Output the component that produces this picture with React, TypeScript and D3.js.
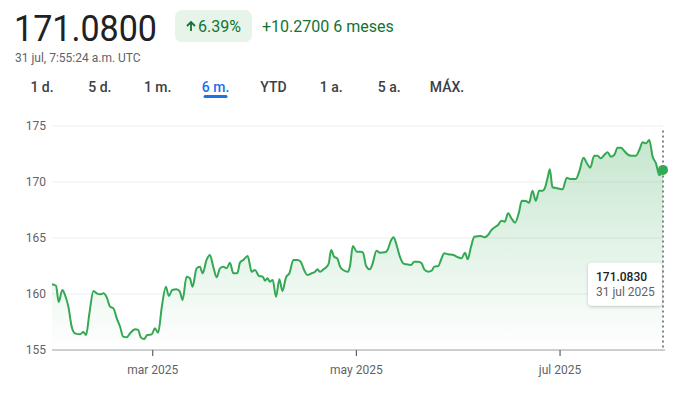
import * as d3 from 'd3';
import React, { useEffect, useRef } from 'react';

// time of each reading, in days after the window start
const dayOffsets = [
  0, 1.2, 2.0, 3.1, 3.9, 4.9, 5.9, 6.9, 8.4, 9.4, 10.2, 11.2, 12.4, 13.4, 14.4, 15.4, 16.4,
  17.4, 18.4, 19.4, 20.4, 21.3, 22.4, 23.4, 24.9, 25.8, 26.6, 27.6, 28.5, 29.9, 30.8, 31.8,
  32.9, 34.1, 35.0, 36.0, 37.3, 38.3, 39.1, 40.3, 41.3, 42.1, 43.3, 44.3, 45.1, 46.3, 47.3,
  48.3, 49.3, 50.3, 51.3, 52.3, 53.3, 54.3, 55.5, 56.3, 57.3, 58.6, 59.8, 60.8, 62.0, 63.1,
  63.8, 64.5, 65.3, 66.1, 67.1, 68.1, 69.0, 70.1, 71.1, 72.3, 73.5, 74.5, 75.5, 76.5, 77.8,
  78.8, 79.5, 80.3, 81.3, 82.3, 82.9, 83.6, 84.5, 85.4, 86.3, 87.2, 88.7, 89.3, 90.1, 91.3,
  92.3, 93.1, 94.1, 95.2, 95.9, 97.2, 98.2, 99.7, 100.5, 101.5, 102.3, 103.2, 104.2, 105.2,
  106.2, 107.5, 108.5, 109.7, 110.7, 111.5, 112.7, 113.7, 114.5, 115.7, 116.5, 117.5, 118.7,
  120.2, 121.2, 122.7, 123.7, 124.5, 125.5, 126.5, 128.4, 129.6, 130.6, 131.6, 132.6, 133.6,
  134.6, 135.6, 136.6, 137.6, 138.7, 139.9, 140.7, 141.9, 142.9, 143.9, 144.9, 145.9, 146.9,
  147.6, 148.4, 149.1, 149.9, 151.4, 152.9, 154.2, 155.2, 156.9, 157.9, 159.2, 160.2, 161.2,
  162.4, 163.4, 164.4, 165.4, 166.4, 167.4, 168.4, 169.4, 170.4, 171.4, 172.4, 173.4, 174.9,
  175.9, 176.9, 177.9, 178.9, 179.9, 180.9, 181.9, 183.0,
];

const prices = [
  160.87, 160.74, 159.29, 160.36, 159.91, 158.87, 157.08, 156.49, 156.40, 156.61, 156.34, 158.27,
  160.27, 160.06, 159.97, 160.06, 159.70, 158.87, 158.72, 157.83, 157.08, 156.19, 156.13, 156.49,
  156.85, 156.79, 156.13, 155.98, 156.34, 156.40, 156.94, 156.55, 158.87, 160.65, 159.82, 160.36,
  160.42, 160.21, 159.46, 161.55, 161.40, 160.65, 162.29, 162.44, 161.85, 163.04, 163.48, 162.44,
  161.49, 162.29, 162.44, 162.29, 162.80, 161.85, 161.85, 162.80, 163.04, 163.39, 161.99, 162.14,
  161.61, 161.55, 161.19, 161.40, 161.10, 161.25, 159.76, 161.31, 160.27, 161.49, 161.85, 163.04,
  163.04, 162.88, 162.14, 161.70, 161.85, 161.99, 162.20, 161.99, 162.20, 162.44, 162.74, 163.93,
  163.33, 163.19, 162.44, 162.14, 161.99, 162.59, 164.29, 163.78, 163.78, 163.72, 162.50, 162.20,
  162.59, 163.87, 163.69, 163.72, 163.93, 164.76, 165.06, 164.38, 163.33, 162.74, 162.65, 162.59,
  162.88, 162.88, 162.74, 162.20, 161.99, 162.08, 162.44, 162.50, 163.04, 163.63, 163.54, 163.48,
  163.33, 163.19, 163.69, 163.10, 164.22, 165.12, 165.18, 165.06, 165.27, 165.71, 165.96, 166.16,
  166.55, 166.46, 167.20, 166.76, 166.37, 167.35, 168.33, 168.30, 168.15, 169.22, 168.33, 169.22,
  169.22, 169.44, 170.33, 171.13, 169.53, 169.44, 169.35, 170.39, 170.27, 170.27, 170.92, 172.17,
  171.67, 171.28, 172.35, 172.35, 172.11, 172.41, 172.65, 172.26, 172.41, 173.06, 173.06, 172.77,
  172.47, 172.35, 172.35, 172.86, 173.54, 173.45, 173.75, 172.26, 171.67, 170.60, 171.08,
];

const yTicks = [155, 160, 165, 170, 175];
const monthTicks = ['2025-03-01', '2025-05-01', '2025-07-01'];
const monthLabels = ['mar 2025', 'may 2025', 'jul 2025'];
const ranges = ['1 d.', '5 d.', '1 m.', '6 m.', 'YTD', '1 a.', '5 a.', 'MÁX.'];
const activeRange = '6 m.';

const windowStart = new Date('2025-01-29T20:00:00Z');
const windowDays = 183;
const lastPrice = '171.0800';
const lastTime = '31 jul, 7:55:24 a.m. UTC';
const changePct = '6.39%';
const changeAbs = '+10.2700 6 meses';
const tipValue = '171.0830';
const tipDate = '31 jul 2025';

const DAY = 86400000;
const FONT = 'Roboto, Arial, sans-serif';

const App = () => {
  const svgRef = useRef<SVGSVGElement>(null);

  useEffect(() => {
    const width = 676;
    const height = 393;
    const margin = { top: 126, right: 13, bottom: 43, left: 52 };

    const data = prices.map((p, i) => ({
      date: new Date(windowStart.getTime() + dayOffsets[i] * DAY),
      price: p,
    }));

    const x = d3
      .scaleUtc()
      .domain([windowStart, new Date(windowStart.getTime() + windowDays * DAY)])
      .range([margin.left, width - margin.right]);

    const y = d3
      .scaleLinear()
      .domain([155, 175])
      .range([height - margin.bottom, margin.top]);

    const svg = d3.select(svgRef.current);
    svg.selectAll('*').remove();
    svg.attr('width', width).attr('height', height);

    // header
    svg.append('text')
      .attr('x', 14).attr('y', 41)
      .attr('font-size', 36).attr('fill', '#202124')
      .attr('textLength', 143).attr('lengthAdjust', 'spacingAndGlyphs')
      .text(lastPrice);

    svg.append('rect')
      .attr('x', 175).attr('y', 10).attr('width', 77).attr('height', 32)
      .attr('rx', 7).attr('fill', '#e6f4ea');
    svg.append('path')
      .attr('d', 'M191,31V22.5M187,26L191,22L195,26')
      .attr('fill', 'none').attr('stroke', '#137333').attr('stroke-width', 1.8);
    svg.append('text')
      .attr('x', 198).attr('y', 32).attr('font-size', 16).attr('fill', '#137333')
      .text(changePct);
    svg.append('text')
      .attr('x', 262).attr('y', 32).attr('font-size', 16).attr('fill', '#137333')
      .text(changeAbs);

    svg.append('text')
      .attr('x', 15).attr('y', 62).attr('font-size', 12).attr('fill', '#5f6368')
      .text(lastTime);

    // range tabs
    const tabX = d3.scalePoint().domain(ranges).range([42, 447]);
    svg.append('g')
      .selectAll('text')
      .data(ranges)
      .enter()
      .append('text')
      .attr('x', d => tabX(d))
      .attr('y', 92)
      .attr('text-anchor', 'middle')
      .attr('font-size', 14)
      .attr('font-weight', 500)
      .attr('fill', d => (d === activeRange ? '#1a73e8' : '#3c4043'))
      .text(d => d);
    svg.append('rect')
      .attr('x', tabX(activeRange) - 12).attr('y', 95)
      .attr('width', 24).attr('height', 3).attr('rx', 1.5)
      .attr('fill', '#1a73e8');

    // grid + y labels
    const grid = svg.append('g');
    grid.selectAll('line')
      .data(yTicks.slice(1))
      .enter()
      .append('line')
      .attr('x1', margin.left).attr('x2', width - margin.right)
      .attr('y1', d => y(d)).attr('y2', d => y(d))
      .attr('stroke', '#eceff1').attr('stroke-width', 1);
    grid.selectAll('text')
      .data(yTicks)
      .enter()
      .append('text')
      .attr('x', 46).attr('y', d => y(d) + 4)
      .attr('text-anchor', 'end')
      .attr('font-size', 12).attr('fill', '#5f6368')
      .text(d => d);

    // area gradient
    const defs = svg.append('defs');
    const grad = defs.append('linearGradient')
      .attr('id', 'fillGrad')
      .attr('gradientUnits', 'userSpaceOnUse')
      .attr('x1', 0).attr('x2', 0)
      .attr('y1', y(175)).attr('y2', y(155));
    grad.append('stop').attr('offset', 0).attr('stop-color', '#34a853').attr('stop-opacity', 0.3);
    grad.append('stop').attr('offset', 1).attr('stop-color', '#34a853').attr('stop-opacity', 0);

    const shadow = defs.append('filter').attr('id', 'tipShadow')
      .attr('x', '-20%').attr('y', '-20%').attr('width', '140%').attr('height', '150%');
    shadow.append('feDropShadow')
      .attr('dx', 0).attr('dy', 1).attr('stdDeviation', 1.5)
      .attr('flood-color', '#3c4043').attr('flood-opacity', 0.3);

    svg.append('path')
      .datum(data)
      .attr('fill', 'url(#fillGrad)')
      .attr('d', d3.area<{ date: Date; price: number }>()
        .x(d => x(d.date))
        .y0(y(155))
        .y1(d => y(d.price))
        .curve(d3.curveMonotoneX));

    // bottom axis
    const axis = svg.append('g');
    axis.append('line')
      .attr('x1', margin.left).attr('x2', width - margin.right + 2)
      .attr('y1', y(155)).attr('y2', y(155))
      .attr('stroke', '#9aa0a6').attr('stroke-width', 1);
    const tickDates = monthTicks.map(s => new Date(s + 'T00:00:00Z'));
    axis.selectAll('line.tick')
      .data(tickDates)
      .enter()
      .append('line')
      .attr('class', 'tick')
      .attr('x1', d => x(d)).attr('x2', d => x(d))
      .attr('y1', y(155)).attr('y2', y(155) + 6)
      .attr('stroke', '#5f6368').attr('stroke-width', 1.2);
    axis.selectAll('text')
      .data(tickDates)
      .enter()
      .append('text')
      .attr('x', d => x(d))
      .attr('y', y(155) + 24)
      .attr('text-anchor', 'middle')
      .attr('font-size', 12).attr('fill', '#5f6368')
      .text((d, i) => monthLabels[i]);

    // price line
    svg.append('path')
      .datum(data)
      .attr('fill', 'none')
      .attr('stroke', '#34a853')
      .attr('stroke-width', 2)
      .attr('stroke-linejoin', 'round')
      .attr('d', d3.line<{ date: Date; price: number }>()
        .x(d => x(d.date))
        .y(d => y(d.price))
        .curve(d3.curveMonotoneX));

    // hover marker
    const last = data[data.length - 1];
    const lx = x(last.date);
    svg.append('line')
      .attr('x1', lx).attr('x2', lx)
      .attr('y1', y(174.6)).attr('y2', y(155))
      .attr('stroke', '#80868b').attr('stroke-width', 2)
      .attr('stroke-dasharray', '2,3');
    svg.append('circle')
      .attr('cx', lx).attr('cy', y(last.price))
      .attr('r', 5).attr('fill', '#34a853');

    const tip = svg.append('g');
    tip.append('rect')
      .attr('x', lx - 75).attr('y', y(162.8)).attr('width', 74).attr('height', 43)
      .attr('rx', 4).attr('fill', '#fff').attr('filter', 'url(#tipShadow)');
    tip.append('text')
      .attr('x', lx - 67).attr('y', y(162.8) + 18)
      .attr('font-size', 12).attr('font-weight', 500).attr('fill', '#202124')
      .text(tipValue);
    tip.append('text')
      .attr('x', lx - 67).attr('y', y(162.8) + 33)
      .attr('font-size', 12).attr('fill', '#5f6368')
      .text(tipDate);
  }, []);

  return (
    <svg
      ref={svgRef}
      style={{ position: 'absolute', left: 0, top: 0, fontFamily: FONT, background: '#fff' }}
    ></svg>
  );
};

export default App;
